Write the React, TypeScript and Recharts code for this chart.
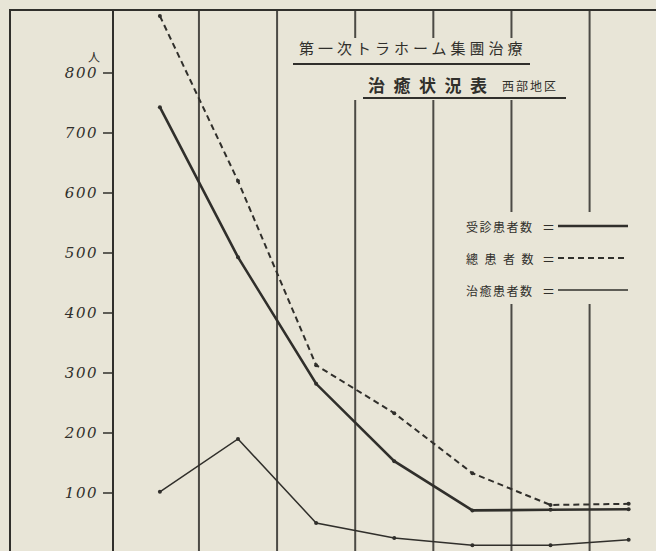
import { LineChart, Line, XAxis, YAxis, ReferenceLine } from "recharts";

const examined = [743, 493, 282, 153, 71, 72, 73];
const total = [895, 620, 313, 233, 133, 80, 82];
const cured = [102, 190, 50, 25, 13, 13, 22];
const yTicks = [100, 200, 300, 400, 500, 600, 700, 800];
const gridTicks = [0.5, 1.5, 2.5, 3.5, 4.5, 5.5];

const PAPER = "#e8e5d7";
const INK = "#302f2b";

const series = [
  { key: "examined", label: "受診患者数", spacing: 1.5, width: 2.6, dash: undefined as string | undefined },
  { key: "total", label: "總患者数", spacing: 6.5, width: 2, dash: "6 4" },
  { key: "cured", label: "治癒患者数", spacing: 1.5, width: 1.5, dash: undefined as string | undefined },
];

const data = examined.map((v, i) => ({ x: i, examined: v, total: total[i], cured: cured[i] }));

function LegendBox() {
  return (
    <div
      style={{
        position: "absolute",
        left: 460,
        top: 212,
        width: 180,
        height: 92,
        background: PAPER,
        fontFamily: "'Noto Sans CJK JP'",
        fontSize: 12,
        color: INK,
      }}
    >
      {series.map((s, i) => (
        <div key={s.key} style={{ position: "absolute", left: 6, top: 6 + i * 32, height: 16, display: "flex", alignItems: "center" }}>
          <span style={{ width: 76, letterSpacing: s.spacing, whiteSpace: "nowrap" }}>{s.label}</span>
          <span style={{ width: 16, fontSize: 13 }}>＝</span>
          <svg width={70} height={8}>
            <line x1={0} y1={4} x2={70} y2={4} stroke={INK} strokeWidth={s.width} strokeDasharray={s.dash} />
          </svg>
        </div>
      ))}
    </div>
  );
}

export default function App() {
  return (
    <div style={{ position: "absolute", left: 0, top: 0, width: 656, height: 551, overflow: "hidden", background: PAPER }}>
      <LineChart width={656} height={553} data={data} margin={{ top: 10, right: 0, left: 0, bottom: 0 }}>
        <XAxis
          type="number"
          dataKey="x"
          domain={[-0.6, 6.35]}
          allowDataOverflow
          ticks={gridTicks}
          tick={false}
          axisLine={false}
          tickLine={false}
          height={0}
        />
        <YAxis
          domain={[0, 905]}
          allowDataOverflow
          ticks={yTicks}
          width={113}
          tickSize={10}
          tickMargin={5}
          axisLine={{ stroke: INK, strokeWidth: 2 }}
          tickLine={{ stroke: INK, strokeWidth: 1.5 }}
          tick={{ fontSize: 15, fill: INK, fontFamily: "'DejaVu Serif'", fontStyle: "italic", letterSpacing: 1.5 }}
        />
        {gridTicks.map((t) => (
          <ReferenceLine key={t} x={t} stroke={INK} strokeWidth={2} strokeOpacity={0.85} />
        ))}
        {series.map((s) => (
          <Line
            key={s.key}
            type="linear"
            dataKey={s.key}
            name={s.label}
            stroke={INK}
            strokeWidth={s.width}
            strokeDasharray={s.dash}
            dot={{ r: 2, fill: INK, stroke: "none" }}
            isAnimationActive={false}
          />
        ))}
      </LineChart>

      <div style={{ position: "absolute", left: 9, top: 9, width: 660, height: 560, borderTop: `2px solid ${INK}`, borderLeft: `2px solid ${INK}`, pointerEvents: "none" }} />

      <div style={{ position: "absolute", left: 88, top: 48, fontSize: 12, color: INK, fontFamily: "'Noto Sans CJK JP'" }}>人</div>

      <div style={{ position: "absolute", left: 293, top: 38, width: 273, height: 62, background: PAPER, color: INK, fontFamily: "'Noto Sans CJK JP'" }}>
        <div style={{ position: "absolute", left: 6, top: 0, fontSize: 15, letterSpacing: 4, lineHeight: "20px", whiteSpace: "nowrap" }}>第一次トラホーム集團治療</div>
        <div style={{ position: "absolute", left: 0, top: 25, width: 237, height: 0, borderTop: `2px solid ${INK}` }} />
        <div style={{ position: "absolute", left: 75, top: 36, fontSize: 17, fontWeight: 700, letterSpacing: 8.5, lineHeight: "22px", whiteSpace: "nowrap" }}>治癒状況表</div>
        <div style={{ position: "absolute", left: 209, top: 40, fontSize: 12, letterSpacing: 2, lineHeight: "16px", whiteSpace: "nowrap" }}>西部地区</div>
        <div style={{ position: "absolute", left: 70, top: 59, width: 203, height: 0, borderTop: `2px solid ${INK}` }} />
      </div>

      <LegendBox />
    </div>
  );
}
